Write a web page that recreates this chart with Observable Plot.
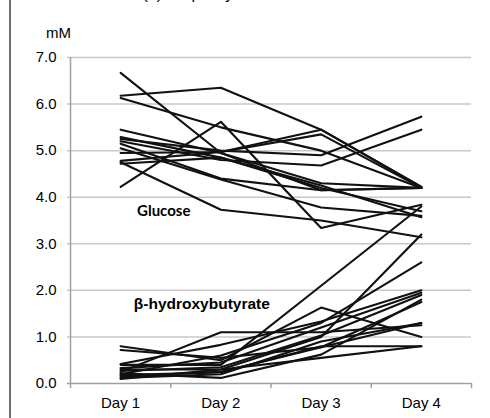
<!DOCTYPE html>
<html><head><meta charset="utf-8">
<script src="https://cdn.jsdelivr.net/npm/d3@7"></script>
<script src="https://cdn.jsdelivr.net/npm/@observablehq/plot@0.6"></script>
<style>
body{margin:0;background:#fff;}
#wrap{position:relative;width:490px;height:418px;overflow:hidden;background:#fff;}
#edge{position:absolute;left:9px;top:0;width:2px;height:418px;background:#707070;}
#wrap svg{position:absolute;left:0;top:0;}
</style>
</head><body><div id="wrap"><div id="edge"></div></div>
<script>
const days = ["Day 1", "Day 2", "Day 3", "Day 4"];
const yTicks = [0, 1, 2, 3, 4, 5, 6, 7];
const dayBounds = [0.5, 1.5, 2.5, 3.5, 4.5];

// Glucose (mM), one row per subject: Day 1..Day 4
const glucose = [
  [6.18, 6.35, 5.45, 4.22],
  [6.13, 5.50, 5.00, 4.20],
  [6.67, 4.95, 4.15, 4.20],
  [4.22, 5.62, 3.34, 3.84],
  [4.75, 3.73, 3.50, 3.14],
  [5.45, 4.95, 4.30, 4.20],
  [5.29, 4.85, 4.20, 3.70],
  [5.25, 5.00, 4.90, 5.73],
  [5.20, 4.80, 4.68, 5.45],
  [5.15, 4.40, 4.15, 4.20],
  [5.05, 4.38, 3.78, 3.60],
  [4.95, 4.97, 5.35, 4.20],
  [4.78, 4.97, 5.45, 4.22],
  [4.72, 4.85, 4.25, 3.57]
];

// beta-hydroxybutyrate (mM), one row per subject: Day 1..Day 4
const bhb = [
  [0.25, 1.10, 1.10, 1.25],
  [0.80, 0.50, 1.63, 1.00],
  [0.72, 0.55, 0.78, 1.30],
  [0.40, 0.40, 2.10, 3.80],
  [0.30, 0.30, 1.00, 3.20],
  [0.20, 0.60, 1.30, 2.60],
  [0.42, 0.83, 1.33, 2.00],
  [0.33, 0.45, 1.20, 1.95],
  [0.27, 0.35, 1.03, 1.90],
  [0.22, 0.12, 0.62, 1.80],
  [0.15, 0.25, 0.78, 1.75],
  [0.12, 0.20, 0.90, 1.30],
  [0.10, 0.30, 0.55, 0.80],
  [0.18, 0.24, 0.80, 0.80]
];

const seriesLabels = ["Glucose", "β-hydroxybutyrate"];
const labelPos = [[1.43, 3.71], [1.81, 1.71]];

function toRows(rows, name) {
  const out = [];
  rows.forEach((r, i) => r.forEach((v, j) => out.push({id: name + i, day: j + 1, value: v})));
  return out;
}
const gRows = toRows(glucose, "g");
const bRows = toRows(bhb, "b");

const chart = Plot.plot({
  width: 490,
  height: 418,
  marginLeft: 70,
  marginRight: 19,
  marginTop: 57,
  marginBottom: 35,
  style: {fontFamily: "'Liberation Sans', Arial, sans-serif", fontSize: "15px", color: "#000", background: "transparent", overflow: "visible"},
  x: {domain: [0.5, 4.5], ticks: [1, 2, 3, 4], tickFormat: d => days[d - 1], tickSize: 0, tickPadding: 14, label: null},
  y: {domain: [0, 7], ticks: yTicks, tickFormat: d => d.toFixed(1), tickSize: 0, tickPadding: 14, label: null},
  marks: [
    Plot.ruleY(yTicks.slice(1), {x1: 0.47, x2: 4.5, stroke: "#c8c8c8", strokeWidth: 1.5}),
    Plot.ruleY([0], {x1: 0.47, x2: 4.5, stroke: "#a0a0a0", strokeWidth: 1.5}),
    Plot.ruleX([0.5], {y1: 0, y2: 7, stroke: "#a0a0a0", strokeWidth: 1.5}),
    Plot.ruleX(dayBounds, {y1: 0, y2: -0.11, stroke: "#a0a0a0", strokeWidth: 1.5}),
    Plot.line(gRows, {x: "day", y: "value", z: "id", stroke: "#111", strokeWidth: 2.1}),
    Plot.line(bRows, {x: "day", y: "value", z: "id", stroke: "#111", strokeWidth: 2.1}),
    Plot.text([seriesLabels[0]], {x: () => labelPos[0][0], y: () => labelPos[0][1], fontFamily: "Lato, 'Open Sans', sans-serif", fontWeight: "bold", fontSize: 15, fill: "#000"}),
    Plot.text([seriesLabels[1]], {x: () => labelPos[1][0], y: () => labelPos[1][1], fontWeight: "bold", fontSize: 15.5, fill: "#000"}),
    Plot.text(["mM"], {x: () => 0.5, y: () => 7, dx: -12, dy: -24, fontSize: 15, fill: "#000"}),
    Plot.text(["(a)  Capillary"], {x: () => 0.5, y: () => 7, dx: 72, dy: -64, textAnchor: "start", fontSize: 16, fill: "#000"})
  ]
});
document.getElementById("wrap").appendChild(chart);
</script>
</body></html>
